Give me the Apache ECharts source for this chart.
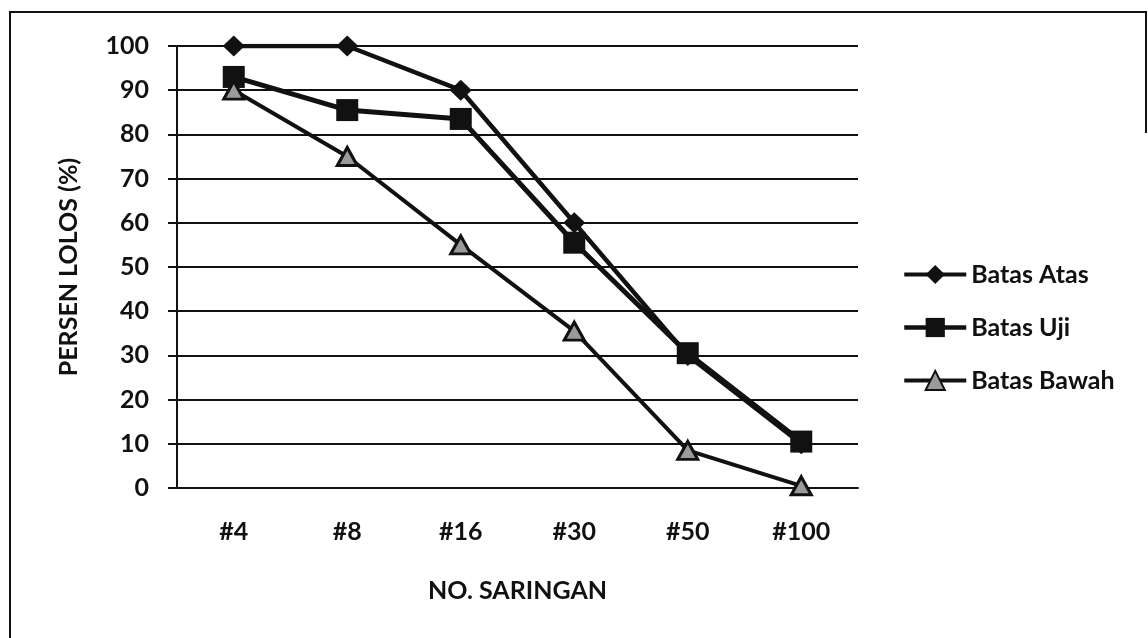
<!DOCTYPE html>
<html>
<head>
<meta charset="utf-8">
<script src="https://cdn.jsdelivr.net/npm/echarts@6/dist/echarts.min.js"></script>
<style>
  html, body { margin: 0; padding: 0; background: #fff; }
  #chart { width: 1148px; height: 638px; }
</style>
</head>
<body>
<div id="chart"></div>
<script>
// Sieve numbers and percent passing for each gradation limit
const categories = ['#4', '#8', '#16', '#30', '#50', '#100'];
const batasAtas = [100, 100, 90, 60, 30, 10];
const batasUji = [93, 85.5, 83.5, 55.5, 30.5, 10.5];
const batasBawah = [90, 75, 55, 35.5, 8.5, 0.5];
const yTicks = { min: 0, max: 100, interval: 10 };

const FONT = 'Lato';
const INK = '#111';

const chart = echarts.init(document.getElementById('chart'), null, { renderer: 'canvas' });

chart.setOption({
  backgroundColor: '#fff',
  animation: false,
  textStyle: { fontFamily: FONT, color: INK },
  graphic: [{
    type: 'polyline',
    shape: { points: [[10, 638], [10, 12], [1146, 12], [1146, 133]] },
    style: { stroke: INK, lineWidth: 2, fill: null }
  }],
  grid: { left: 177, right: 290, top: 46, bottom: 150 },
  legend: {
    orient: 'vertical',
    left: 897,
    top: 257,
    itemWidth: 62,
    itemHeight: 24,
    itemGap: 28,
    textStyle: { fontFamily: FONT, fontWeight: 'bold', fontSize: 25, color: INK, lineHeight: 24 },
    data: [
      { name: 'Batas Atas', lineStyle: { width: 4 } },
      { name: 'Batas Uji', lineStyle: { width: 4.5 } },
      { name: 'Batas Bawah', lineStyle: { width: 4 } }
    ]
  },
  xAxis: {
    type: 'category',
    data: categories,
    boundaryGap: true,
    name: 'NO. SARINGAN',
    nameLocation: 'middle',
    nameGap: 90,
    nameTextStyle: { fontFamily: FONT, fontWeight: 'bold', fontSize: 25, color: INK },
    axisLine: { lineStyle: { color: INK, width: 2 } },
    axisTick: { show: false },
    axisLabel: { fontFamily: FONT, fontWeight: 'bold', fontSize: 25, color: INK, margin: 31 },
    splitLine: { show: false }
  },
  yAxis: {
    type: 'value',
    min: yTicks.min,
    max: yTicks.max,
    interval: yTicks.interval,
    name: 'PERSEN LOLOS (%)',
    nameLocation: 'middle',
    nameGap: 96,
    nameRotate: 90,
    nameTextStyle: { fontFamily: FONT, fontWeight: 'bold', fontSize: 25, color: INK },
    axisLine: { show: true, lineStyle: { color: INK, width: 2 } },
    axisTick: { show: true, length: 9, lineStyle: { color: INK, width: 2 } },
    axisLabel: { fontFamily: FONT, fontWeight: 'bold', fontSize: 25, color: INK, margin: 28 },
    splitLine: { show: true, lineStyle: { color: INK, width: 2 } }
  },
  series: [
    {
      name: 'Batas Atas',
      type: 'line',
      data: batasAtas,
      symbol: 'diamond',
      symbolSize: [22, 21],
      lineStyle: { color: INK, width: 4.5 },
      itemStyle: { color: INK, borderColor: INK, borderWidth: 0 },
      z: 3
    },
    {
      name: 'Batas Uji',
      type: 'line',
      data: batasUji,
      symbol: 'rect',
      symbolSize: 22,
      lineStyle: { color: INK, width: 5 },
      itemStyle: { color: INK, borderColor: INK, borderWidth: 0 },
      z: 4
    },
    {
      name: 'Batas Bawah',
      type: 'line',
      data: batasBawah,
      symbol: 'triangle',
      symbolSize: [20, 18],
      lineStyle: { color: INK, width: 4 },
      itemStyle: { color: '#9a9a9a', borderColor: INK, borderWidth: 3 },
      z: 5
    }
  ]
});
</script>
</body>
</html>
